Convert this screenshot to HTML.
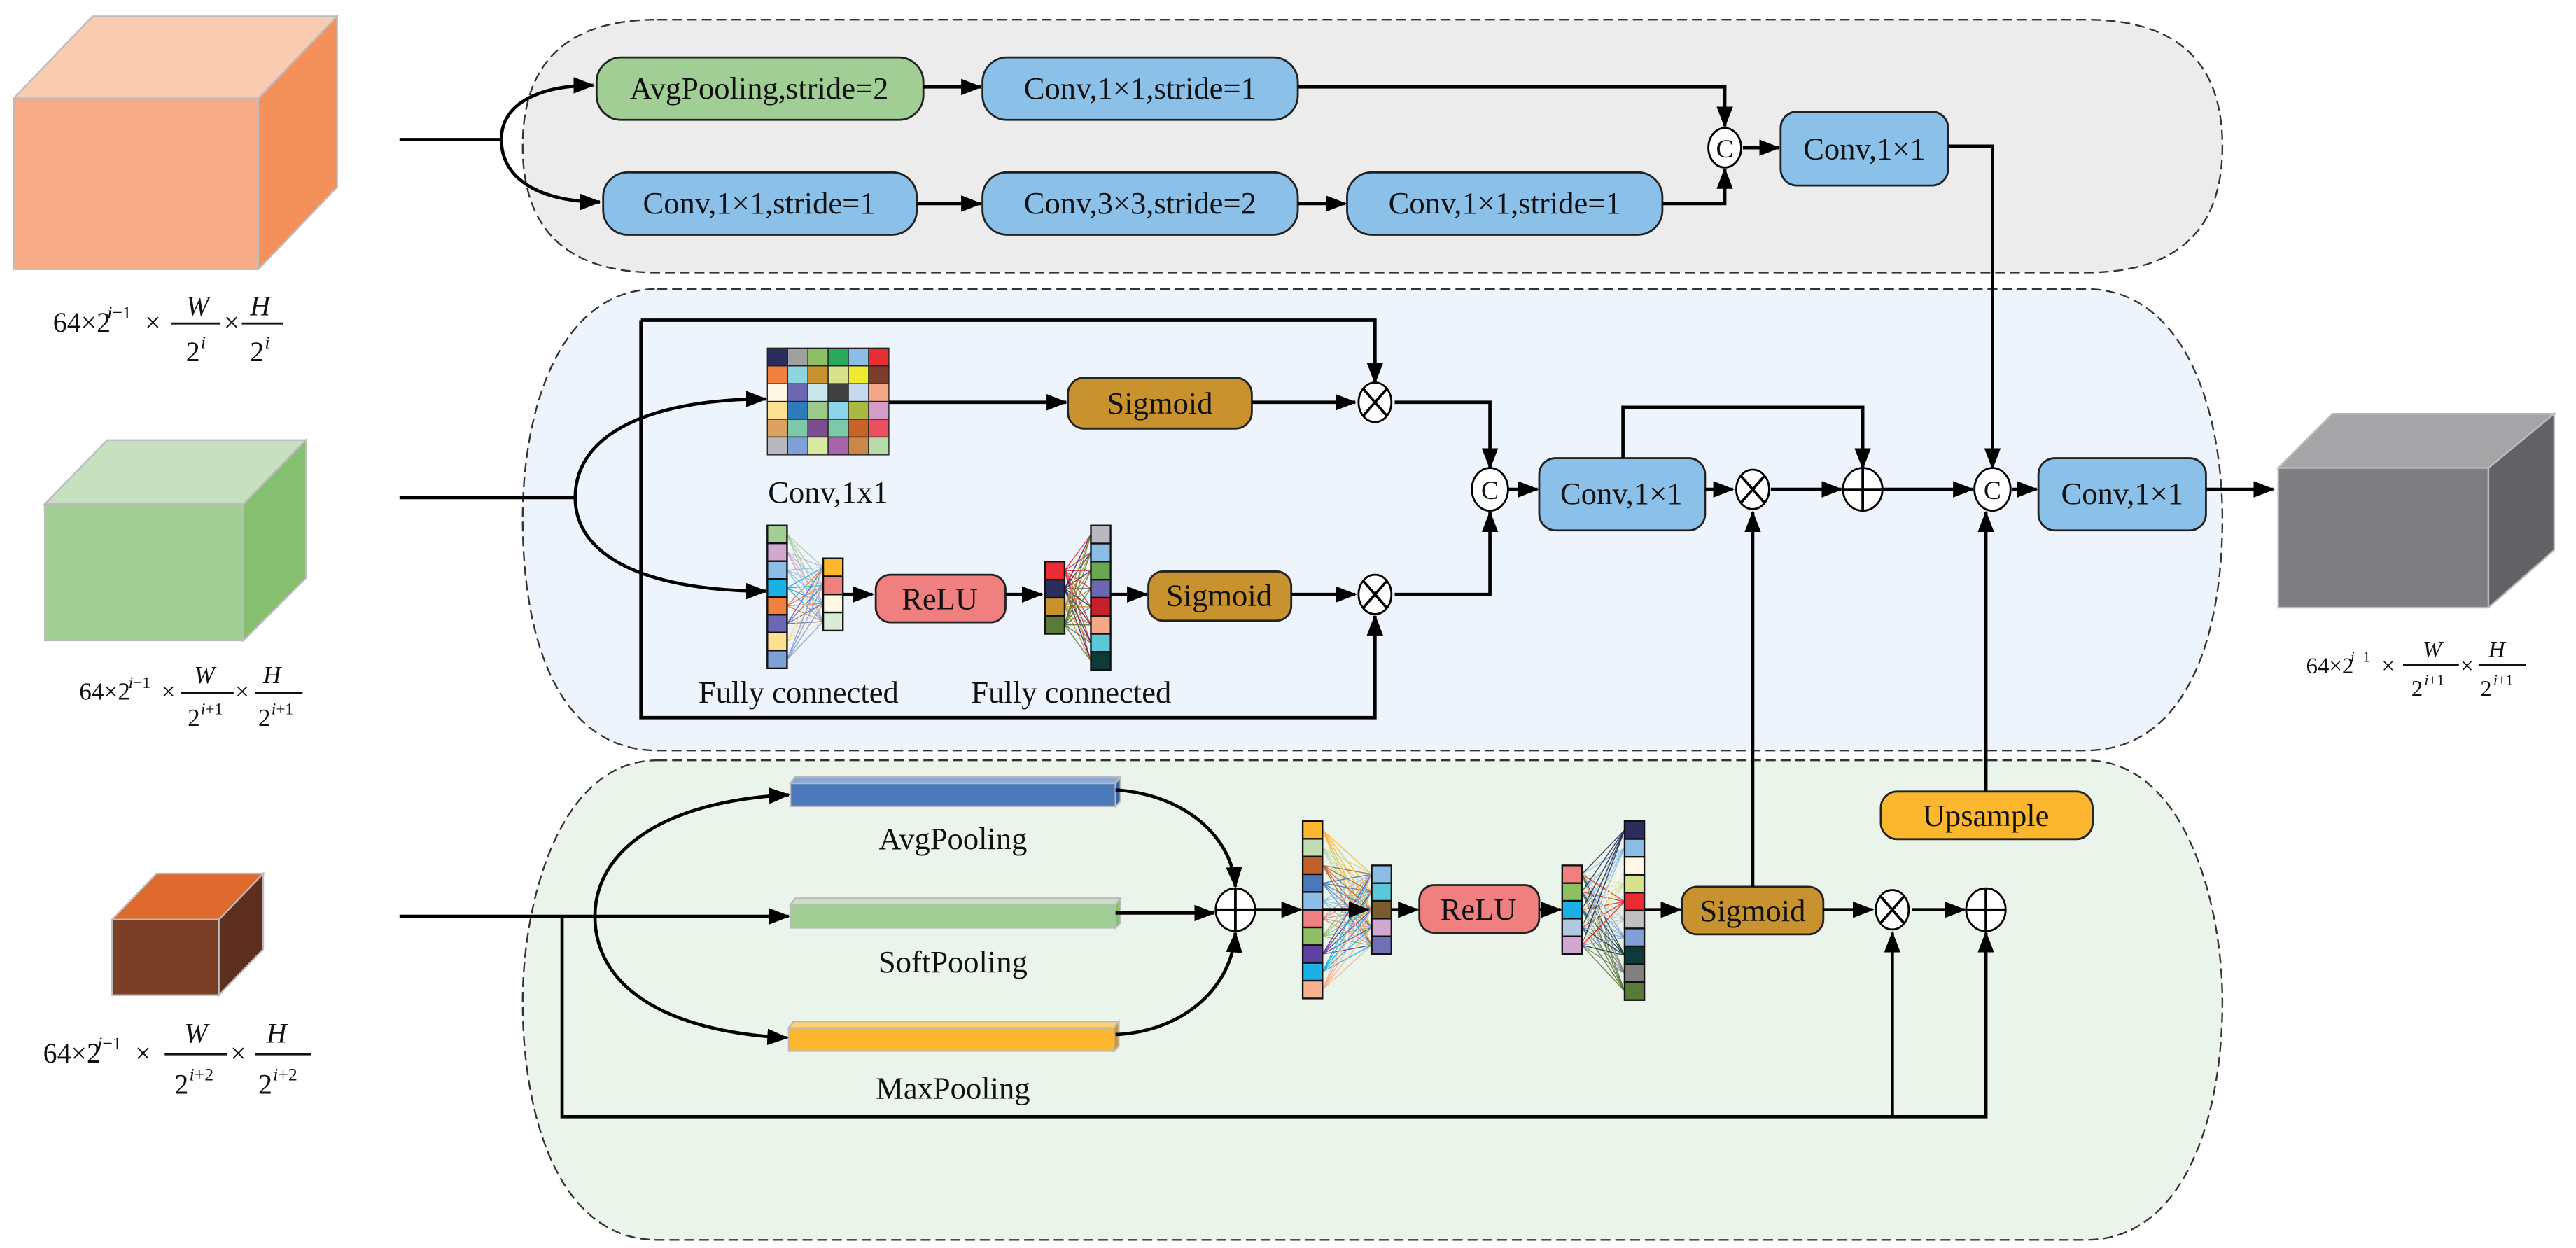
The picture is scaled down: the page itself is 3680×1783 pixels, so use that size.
<!DOCTYPE html>
<html><head><meta charset="utf-8"><style>
html,body{margin:0;padding:0;background:#fff;}
svg{display:block;}
svg text{font-family:"Liberation Serif","DejaVu Serif",serif;fill:#111;}
</style></head><body>
<svg id="s" width="3680" height="1783" viewBox="0 0 1568 760" xmlns="http://www.w3.org/2000/svg" font-family="Liberation Serif, DejaVu Serif, serif">
<defs>
<marker id="a" markerWidth="13" markerHeight="10" refX="12" refY="5" orient="auto" markerUnits="userSpaceOnUse"><path d="M0,0L13,5L0,10z" fill="#000"/></marker>
</defs>
<path d="M400,12 H1270 Q1353,12 1353,89 Q1353,166 1270,166 H400 Q318,166 318,89 Q318,12 400,12Z" fill="#ececec" stroke="#333" stroke-dasharray="6,3" stroke-width="1"/>
<path d="M400,176 H1270 C1330,176 1353,250 1353,316 C1353,390 1330,457 1270,457 H400 C340,457 318,390 318,316 C318,250 340,176 400,176Z" fill="#eef4fb" stroke="#333" stroke-dasharray="6,3" stroke-width="1"/>
<path d="M400,463 H1270 C1330,463 1353,550 1353,610 C1353,680 1330,755 1270,755 H400 C340,755 318,680 318,610 C318,550 340,463 400,463Z" fill="#eaf4ea" stroke="#333" stroke-dasharray="6,3" stroke-width="1"/>

<g stroke="#bbb" stroke-width="1">
<polygon points="8,60 56,10 205,10 157,60" fill="#f9cbb1"/>
<polygon points="8,60 157,60 157,164 8,164" fill="#f7ab86"/>
<polygon points="157,60 205,10 205,114 157,164" fill="#f4915a"/>
<polygon points="27,307 65,268 186,268 148,307" fill="#c6e0c0"/>
<polygon points="27,307 148,307 148,390 27,390" fill="#a0ce94"/>
<polygon points="148,307 186,268 186,352 148,390" fill="#86bf70"/>
<polygon points="68,560 95,532 160,532 133,560" fill="#dd6a2c"/>
<polygon points="68,560 133,560 133,606 68,606" fill="#7b3f28"/>
<polygon points="133,560 160,532 160,578 133,606" fill="#5e2e1e"/>
<polygon points="1387,285 1420,252 1555,252 1515,285" fill="#a5a5a7"/>
<polygon points="1387,285 1515,285 1515,370 1387,370" fill="#7e7d82"/>
<polygon points="1515,285 1555,252 1555,335 1515,370" fill="#626266"/>
</g>

<g font-size="17">
<text x="32" y="202">64×2</text><text x="65" y="194" font-size="11"><tspan font-style="italic">i</tspan>−1</text><text x="88" y="202">×</text>
<text x="113" y="192" font-style="italic">W</text><line x1="104" y1="197" x2="134" y2="197" stroke="#111" stroke-width="1.2"/>
<text x="113" y="220">2</text><text x="122" y="212" font-size="11" font-style="italic">i</text>
<text x="136" y="202">×</text>
<text x="152" y="192" font-style="italic">H</text><line x1="147" y1="197" x2="172" y2="197" stroke="#111" stroke-width="1.2"/>
<text x="152" y="220">2</text><text x="161" y="212" font-size="11" font-style="italic">i</text>
</g>
<g font-size="15">
<text x="48" y="426">64×2</text><text x="78" y="419" font-size="10"><tspan font-style="italic">i</tspan>−1</text><text x="98" y="426">×</text>
<text x="118" y="416" font-style="italic">W</text><line x1="110" y1="422" x2="142" y2="422" stroke="#111" stroke-width="1.1"/>
<text x="114" y="442">2</text><text x="122" y="435" font-size="10"><tspan font-style="italic">i</tspan>+1</text>
<text x="143" y="426">×</text>
<text x="160" y="416" font-style="italic">H</text><line x1="155" y1="422" x2="184" y2="422" stroke="#111" stroke-width="1.1"/>
<text x="157" y="442">2</text><text x="165" y="435" font-size="10"><tspan font-style="italic">i</tspan>+1</text>
</g>
<g font-size="17">
<text x="26" y="647">64×2</text><text x="59" y="639" font-size="11"><tspan font-style="italic">i</tspan>−1</text><text x="82" y="647">×</text>
<text x="112" y="635" font-style="italic">W</text><line x1="100" y1="642" x2="138" y2="642" stroke="#111" stroke-width="1.2"/>
<text x="106" y="666">2</text><text x="115" y="658" font-size="11"><tspan font-style="italic">i</tspan>+2</text>
<text x="140" y="647">×</text>
<text x="162" y="635" font-style="italic">H</text><line x1="155" y1="642" x2="189" y2="642" stroke="#111" stroke-width="1.2"/>
<text x="157" y="666">2</text><text x="166" y="658" font-size="11"><tspan font-style="italic">i</tspan>+2</text>
</g>
<g font-size="14">
<text x="1404" y="410">64×2</text><text x="1431" y="403" font-size="9"><tspan font-style="italic">i</tspan>−1</text><text x="1450" y="410">×</text>
<text x="1475" y="400" font-style="italic">W</text><line x1="1463" y1="405" x2="1497" y2="405" stroke="#111" stroke-width="1"/>
<text x="1468" y="424">2</text><text x="1476" y="417" font-size="9"><tspan font-style="italic">i</tspan>+1</text>
<text x="1498" y="410">×</text>
<text x="1515" y="400" font-style="italic">H</text><line x1="1509" y1="405" x2="1538" y2="405" stroke="#111" stroke-width="1"/>
<text x="1510" y="424">2</text><text x="1518" y="417" font-size="9"><tspan font-style="italic">i</tspan>+1</text>
</g>

<g stroke="#222" stroke-width="1.2">
<rect x="363" y="35" width="199" height="38" rx="15" fill="#a0ce94"/>
<rect x="598" y="35" width="192" height="38" rx="15" fill="#8bc0e8"/>
<rect x="367" y="105" width="191" height="38" rx="15" fill="#8bc0e8"/>
<rect x="598" y="105" width="192" height="38" rx="15" fill="#8bc0e8"/>
<rect x="820" y="105" width="192" height="38" rx="15" fill="#8bc0e8"/>
<rect x="1084" y="68" width="102" height="45" rx="10" fill="#8bc0e8"/>
<rect x="650" y="230" width="112" height="31" rx="10" fill="#c8922e"/>
<rect x="533" y="350" width="79" height="29" rx="9" fill="#f08080"/>
<rect x="699" y="348" width="87" height="30" rx="9" fill="#c8922e"/>
<rect x="937" y="279" width="101" height="44" rx="10" fill="#8bc0e8"/>
<rect x="1241" y="279" width="102" height="44" rx="10" fill="#8bc0e8"/>
<rect x="864" y="539" width="73" height="29" rx="9" fill="#f08080"/>
<rect x="1024" y="540" width="86" height="29" rx="9" fill="#c8922e"/>
<rect x="1145" y="482" width="129" height="29" rx="10" fill="#fdb72e"/>
</g>
<g font-size="19" text-anchor="middle">
<text x="462" y="60">AvgPooling,stride=2</text>
<text x="694" y="60">Conv,1×1,stride=1</text>
<text x="462" y="130">Conv,1×1,stride=1</text>
<text x="694" y="130">Conv,3×3,stride=2</text>
<text x="916" y="130">Conv,1×1,stride=1</text>
<text x="1135" y="97">Conv,1×1</text>
<text x="706" y="252">Sigmoid</text>
<text x="572" y="371">ReLU</text>
<text x="742" y="369">Sigmoid</text>
<text x="987" y="307">Conv,1×1</text>
<text x="1292" y="307">Conv,1×1</text>
<text x="900" y="560">ReLU</text>
<text x="1067" y="561">Sigmoid</text>
<text x="1209" y="503">Upsample</text>
<text x="504" y="306">Conv,1x1</text>
<text x="486" y="428">Fully connected</text>
<text x="652" y="428">Fully connected</text>
<text x="580" y="517">AvgPooling</text>
<text x="580" y="592">SoftPooling</text>
<text x="580" y="669">MaxPooling</text>
</g>

<g stroke="#bbb" stroke-width="1">
<polygon points="481,477 484,473 682,473 679,477" fill="#8aa8d8"/><rect x="481" y="477" width="198" height="14" fill="#4a78bb"/><polygon points="679,477 682,473 682,488 679,491" fill="#3a62a0"/>
<polygon points="481,551 484,547 682,547 679,551" fill="#c6e0c0"/><rect x="481" y="551" width="198" height="14" fill="#a0ce94"/><polygon points="679,551 682,547 682,562 679,565" fill="#86bf70"/>
<polygon points="480,626 483,622 681,622 678,626" fill="#fdd070"/><rect x="480" y="626" width="198" height="14" fill="#fdb72e"/><polygon points="678,626 681,622 681,637 678,640" fill="#d89520"/>
</g>

<g id="nn"></g>

<g fill="none" stroke="#000" stroke-width="2">
<path d="M243,85 H305"/>
<path d="M305,85 C305,62 330,52 361,52" marker-end="url(#a)"/>
<path d="M305,85 C305,110 330,123 365,123" marker-end="url(#a)"/>
<path d="M562,53 H597" marker-end="url(#a)"/>
<path d="M558,124 H597" marker-end="url(#a)"/>
<path d="M790,124 H819" marker-end="url(#a)"/>
<path d="M790,53 H1050 V77" marker-end="url(#a)"/>
<path d="M1012,124 H1050 V103" marker-end="url(#a)"/>
<path d="M1061,90 H1083" marker-end="url(#a)"/>
<path d="M1186,89 H1213 V285" marker-end="url(#a)"/>
<path d="M243,303 H350"/>
<path d="M350,303 C350,262 400,243 466,243" marker-end="url(#a)"/>
<path d="M350,303 C350,342 400,360 466,360" marker-end="url(#a)"/>
<path d="M390,195 V437 H837 V375" marker-end="url(#a)"/>
<path d="M390,195 H837 V233" marker-end="url(#a)"/>
<path d="M541,245 H649" marker-end="url(#a)"/>
<path d="M762,245 H825" marker-end="url(#a)"/>
<path d="M786,362 H825" marker-end="url(#a)"/>
<path d="M676,362 H698" marker-end="url(#a)"/>
<path d="M849,245 H907 V285" marker-end="url(#a)"/>
<path d="M849,362 H907 V312" marker-end="url(#a)"/>
<path d="M918,298 H936" marker-end="url(#a)"/>
<path d="M1038,298 H1055" marker-end="url(#a)"/>
<path d="M1078,298 H1121" marker-end="url(#a)"/>
<path d="M988,279 V248 H1134 V285" marker-end="url(#a)"/>
<path d="M1146,298 H1201" marker-end="url(#a)"/>
<path d="M1225,298 H1240" marker-end="url(#a)"/>
<path d="M1343,298 H1384" marker-end="url(#a)"/>
<path d="M1067,540 V312" marker-end="url(#a)"/>
<path d="M1209,482 V312" marker-end="url(#a)"/>
<path d="M243,558 H480" marker-end="url(#a)"/>
<path d="M342,558 V680 H1209 V568" marker-end="url(#a)"/>
<path d="M1152,680 V568" marker-end="url(#a)"/>
<path d="M362,558 C362,520 400,488 480,484" marker-end="url(#a)"/>
<path d="M362,558 C362,598 400,628 479,632" marker-end="url(#a)"/>
<path d="M679,481 C722,484 750,510 752,540" marker-end="url(#a)"/>
<path d="M679,630 C722,628 750,600 752,568" marker-end="url(#a)"/>
<path d="M679,556 H739" marker-end="url(#a)"/>
<path d="M764,554 H792" marker-end="url(#a)"/>
<path d="M847,554 H863" marker-end="url(#a)"/>
<path d="M937,554 H950" marker-end="url(#a)"/>
<path d="M1001,554 H1023" marker-end="url(#a)"/>
<path d="M1110,554 H1140" marker-end="url(#a)"/>
<path d="M1164,554 H1196" marker-end="url(#a)"/>
</g>

<g fill="#fff" stroke="#000" stroke-width="1.2">
<ellipse cx="1050" cy="90" rx="10" ry="12"/>
<ellipse cx="907" cy="298" rx="11" ry="13"/>
<ellipse cx="1213" cy="298" rx="11" ry="13"/>
<ellipse cx="837" cy="245" rx="10" ry="12"/>
<ellipse cx="837" cy="362" rx="10" ry="12"/>
<ellipse cx="1067" cy="298" rx="10" ry="12"/>
<ellipse cx="1134" cy="298" rx="12" ry="13"/>
<ellipse cx="752" cy="554" rx="12" ry="13"/>
<ellipse cx="1152" cy="554" rx="10" ry="12"/>
<ellipse cx="1209" cy="554" rx="12" ry="13"/>
</g>
<g stroke="#000" stroke-width="1.6" fill="none">
<path d="M830,237 L844,253 M844,237 L830,253"/>
<path d="M830,354 L844,370 M844,354 L830,370"/>
<path d="M1060,290 L1074,306 M1074,290 L1060,306"/>
<path d="M1145,546 L1159,562 M1159,546 L1145,562"/>
<path d="M1134,285 V311 M1122,298 H1146"/>
<path d="M752,541 V567 M740,554 H764"/>
<path d="M1209,541 V567 M1197,554 H1221"/>
</g>
<g font-size="16" text-anchor="middle">
<text x="1050" y="96">C</text>
<text x="907" y="304">C</text>
<text x="1213" y="304">C</text>
</g>
</svg>
<script>
(function(){
var NS="http://www.w3.org/2000/svg",g=document.getElementById("nn");
function el(n,a){var e=document.createElementNS(NS,n);for(var k in a)e.setAttribute(k,a[k]);g.appendChild(e);return e;}
var grid=[["#2b2d5c","#a0a0a0","#8cc063","#2aaa5c","#8bbde6","#ea2c33"],["#f08040","#8dd4e0","#c8922e","#d8e28a","#eeea32","#7a3e2a"],["#fff8e6","#6c67b0","#c8e6ee","#404040","#c8d8ee","#f4a888"],["#fde090","#2e7abd","#9cc88c","#8cd4e8","#a8b840","#d49cc8"],["#dca060","#7cc8a8","#7a4e8c","#7cc8a8","#c86428","#ea5060"],["#b8b8c0","#80a0d8","#d8e8a0","#a864a8","#c88848","#b8dca8"]];
var cw=74/6,ch=65/6;
for(var r=0;r<6;r++)for(var c=0;c<6;c++)el("rect",{x:467+c*cw,y:212+r*ch,width:cw,height:ch,fill:grid[r][c],stroke:"#222","stroke-width":0.6});
function col(x,y0,y1,cols){var h=(y1-y0)/cols.length,res=[];cols.forEach(function(cl,i){res.push({x:x,y:y0+i*h+h/2,c:cl});});return {x:x,y0:y0,y1:y1,cols:cols,h:h,c:res};}
function drawCol(C){C.cols.forEach(function(cl,i){el("rect",{x:C.x,y:C.y0+i*C.h,width:12,height:C.h,fill:cl,stroke:"#111","stroke-width":1});});}
function link(A,B,useA){A.c.forEach(function(a){B.c.forEach(function(b){el("line",{x1:A.x+12,y1:a.y,x2:B.x,y2:b.y,stroke:(useA?a.c:b.c),"stroke-width":0.6,opacity:0.9});});});}
var c1=col(467,320,407,["#a0ce94","#d0a8d0","#8bbde6","#1ab0e8","#f08040","#6c67b0","#fde090","#80a0d8"]);
var c2=col(501,340,384,["#fdb72e","#f08080","#fff8e6","#d8ecd8"]);
var c3=col(636,342,386,["#ea2c33","#2b2d5c","#c8922e","#5a7a3a"]);
var c4=col(664,320,408,["#b8b8c0","#8bbde6","#6aa84f","#6c67b0","#c8202a","#f4a888","#5ac8d8","#0e3a3a"]);
var b1=col(793,500,608,["#fdb72e","#c0dcb0","#c0602a","#4a78bb","#8bbde6","#f08080","#8cc063","#6040a0","#1ab0e8","#f8b090"]);
var b2=col(835,527,581,["#8bbde6","#5ac8d8","#7a5c2e","#d0a8d0","#7070b8"]);
var b3=col(951,527,581,["#f08080","#8cc063","#1ab0e8","#b0c8e0","#d0a8d0"]);
var b4=col(989,500,609,["#2b2d5c","#8bbde6","#fff8e6","#d8e28a","#ea2c33","#c0c0c0","#80a0d8","#0e3a3a","#808080","#5a7a3a"]);
link(c1,c2,true);link(c3,c4,true);link(b1,b2,true);link(b3,b4,false);
[c1,c2,c3,c4,b1,b2,b3,b4].forEach(drawCol);
[[513,362,532],[612,362,635],[805,554,834]].forEach(function(p){el("path",{d:"M"+p[0]+","+p[1]+" H"+(p[2]-1),stroke:"#000","stroke-width":2,fill:"none","marker-end":"url(#a)"});});
})();
</script>
</body></html>
